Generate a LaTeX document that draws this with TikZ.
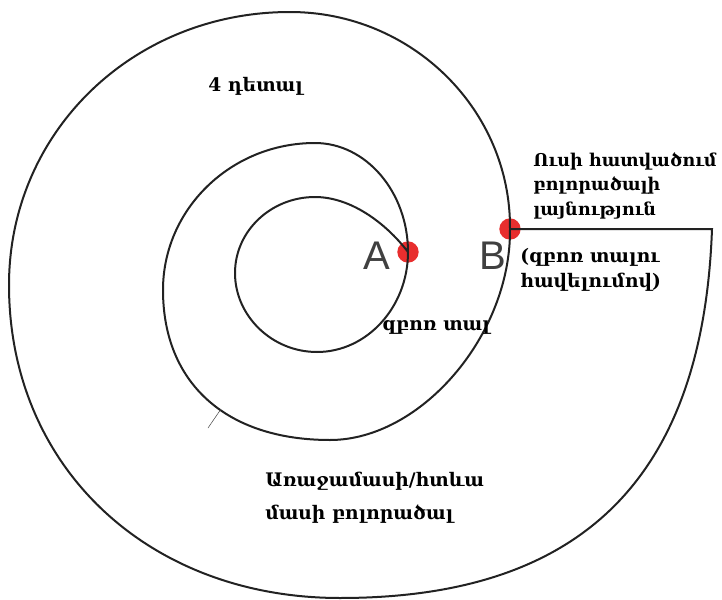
\documentclass[tikz,border=0pt]{standalone}
\usepackage{fontspec}
\setmainfont{DejaVu Serif}
\newfontfamily\letterfont{Liberation Sans}
\usetikzlibrary{positioning}
\definecolor{cdot}{RGB}{232, 46, 46}
\definecolor{cline}{RGB}{34, 34, 34}
\definecolor{cletter}{RGB}{64, 64, 64}
\tikzset{
	hem/.style={%
			draw=cline,%
			line width=1.5pt},%
	marker/.style={%
			circle,%
			fill=cdot,%
			inner sep=0,%
			minimum size=16pt},%
	letter/.style={%
			font={\letterfont\fontsize{30}{30}\selectfont},%
			text=cletter,%
			inner sep=0},%
	note/.style={%
			font={\bfseries\fontsize{14}{18.5}\selectfont},%
			align=left,%
			inner sep=0},%
}

\begin{document}
\begin{tikzpicture}[x=0.75pt, y=-0.75pt]
	\useasboundingbox (0,0) rectangle (722,600);

	\node[marker] (A) at (408,252) {};
	\node[marker] (B) at (510,229) {};
	\coordinate (edge) at (712,229);

	% outer turn, middle turn, inner turn
	\draw[hem] (B.center) -- (edge)
		.. controls (703,480) and (580,598) .. (340,598)
		.. controls (148,598) and (9,467) .. (9,285)
		.. controls (9,132) and (133,12) .. (290,12)
		.. controls (412,12) and (511,110) .. (B.center)
		.. controls (511,335) and (421,440) .. (330,440)
		.. controls (226,440) and (163,383) .. (163,290)
		.. controls (163,209) and (231,143) .. (315,143)
		.. controls (366,143) and (408,192) .. (A.center)
		.. controls (408,307) and (367,352) .. (317,352)
		.. controls (272,352) and (235,316) .. (235,273)
		.. controls (235,231) and (271,197) .. (315,197)
		.. controls (350,197) and (385,222) .. (A.center);
	\draw[gray!60!black, thin] (208,428) -- (221,409);

	\node[letter] (nameA) at (377,256) {A};
	\node[letter] (nameB) at (493,256) {B};

	\node[note, anchor=base west] (parts) at (208,91) {4 դետալ};
	\node[note, anchor=north west, font={\bfseries\fontsize{13.2}{18.5}\selectfont}] (width) at (533,152) {Ուսի հատվածում\\բոլորածալի\\լայնություն};
	\node[note, anchor=north west] (extra) at (520,248) {(զբոռ տալու\\հավելումով)};
	\node[note, anchor=base west] (seam) at (382,330) {զբոռ տալ};
	\node[note, anchor=north west, font={\bfseries\fontsize{14}{25}\selectfont}] (front) at (265,472) {Առաջամասի/հտևա\\մասի բոլորածալ};
\end{tikzpicture}
\end{document}
